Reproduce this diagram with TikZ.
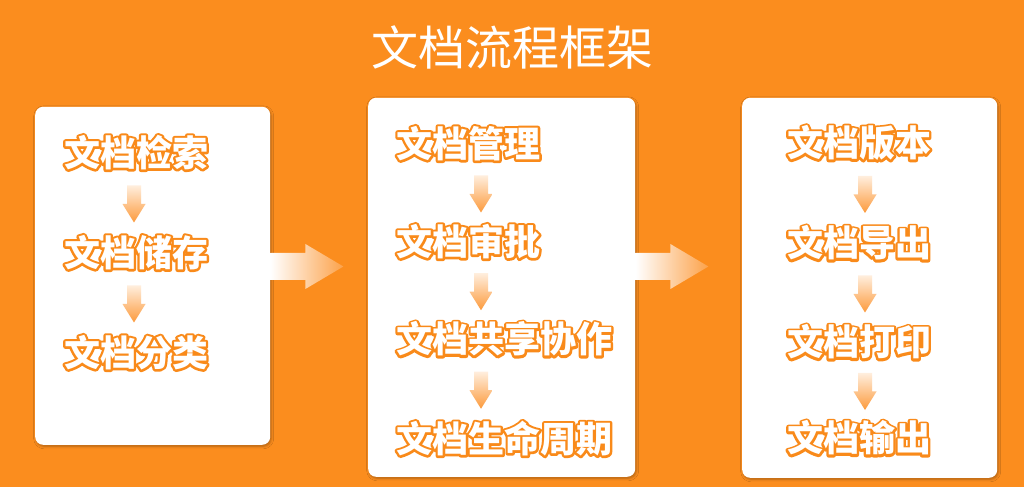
\documentclass[tikz,border=0pt]{standalone}
\usepackage{fontspec}
\usetikzlibrary{calc,shadows.blur}
\newfontfamily\cjk{Noto Sans CJK SC}
\definecolor{bg}{HTML}{FB8D1E}
\definecolor{outc}{HTML}{F98A1A}
\definecolor{bigac}{HTML}{FCA24A}
\definecolor{sa1}{HTML}{FFEEDD}
\definecolor{sa2}{HTML}{FC9A3C}
\newcommand\stk[1]{\textcolor{outc}{\special{pdf:literal direct 1 Tr 4.6 w 1 j}#1\special{pdf:literal direct 0 Tr 0.4 w 0 j}}}
\newcommand\otxt[1]{\rlap{\stk{#1}}\textcolor{white}{#1}}
\newcommand\sarr[3]{%
  \coordinate (mid) at ($(#1)!0.5!(#2)$);
  \shade[top color=sa1,bottom color=sa2,shift={(#3,0 |- mid)},yshift=-1.5pt]
    (-7,18.5) -- (7,18.5) -- (7,0) -- (11.5,0) -- (0,-18.5) -- (-11.5,0) -- (-7,0) -- cycle;}
\begin{document}
\begin{tikzpicture}[x=1pt,y=1pt,
  box/.style={fill=white,rounded corners=8pt,anchor=south west,inner sep=0pt,
    blur shadow={shadow xshift=1pt,shadow yshift=-1.5pt,shadow blur radius=2.5pt,shadow opacity=30}},
  lbl/.style={inner sep=0pt,font=\cjk\bfseries\fontsize{36}{40}\selectfont},
  ttl/.style={inner sep=0pt,text=white,font=\cjk\fontsize{47}{50}\selectfont}]
\fill[bg] (0,0) rectangle (1024,487);
\useasboundingbox (0,0) rectangle (1024,487);
\node[ttl] (title) at (512,439) {文档流程框架};
% boxes
\node[box,minimum width=235pt,minimum height=338pt] (b1) at (35,42) {};
\node[box,minimum width=267pt,minimum height=379pt] (b2) at (368,10) {};
\node[box,minimum width=255pt,minimum height=380pt] (b3) at (742,9) {};
% box 1
\node[lbl] (a1) at (136,334.5) {\otxt{文档检索}};
\node[lbl] (a2) at (136,234.5) {\otxt{文档储存}};
\node[lbl] (a3) at (136,134.5) {\otxt{文档分类}};
% box 2
\node[lbl,anchor=west] (c1) at (396,343.5) {\otxt{文档管理}};
\node[lbl,anchor=west] (c2) at (396,245.5) {\otxt{文档审批}};
\node[lbl,anchor=west] (c3) at (396,148) {\otxt{文档共享协作}};
\node[lbl,anchor=west] (c4) at (396,48.5) {\otxt{文档生命周期}};
% box 3
\node[lbl] (d1) at (859,344) {\otxt{文档版本}};
\node[lbl] (d2) at (859,244) {\otxt{文档导出}};
\node[lbl] (d3) at (859,145) {\otxt{文档打印}};
\node[lbl] (d4) at (859,49) {\otxt{文档输出}};
% small arrows
\sarr{a1}{a2}{134}
\sarr{a2}{a3}{134}
\sarr{c1}{c2}{481}
\sarr{c2}{c3}{481}
\sarr{c3}{c4}{481}
\sarr{d1}{d2}{865}
\sarr{d2}{d3}{865}
\sarr{d3}{d4}{865}
% big arrows
\shade[left color=white,right color=bigac,shift={(b1.east |- 0,220.5)}]
  (0,-13.5) -- (35,-13.5) -- (35,-22.5) -- (73,0) -- (35,22.5) -- (35,13.5) -- (0,13.5) -- cycle;
\shade[left color=white,right color=bigac,shift={(b2.east |- 0,220.5)}]
  (0,-13.5) -- (35,-13.5) -- (35,-22.5) -- (73,0) -- (35,22.5) -- (35,13.5) -- (0,13.5) -- cycle;
\end{tikzpicture}
\end{document}
